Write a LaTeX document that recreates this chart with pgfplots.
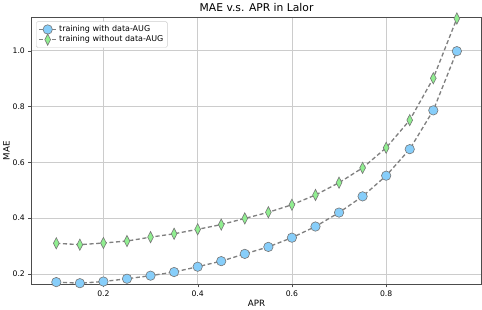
\documentclass[border=0pt]{standalone}
\usepackage{fontspec}
\setmainfont{DejaVu Sans}
\usepackage{pgfplots}
\pgfplotsset{compat=1.18}
\definecolor{circ}{HTML}{87CEFA}
\definecolor{dia}{HTML}{90EE90}
\definecolor{edge}{HTML}{777777}
\definecolor{lin}{HTML}{808080}
\begin{document}
\begin{tikzpicture}
\begin{axis}[
  scale only axis,
  width=440pt, height=261pt,
  xmin=0.0475, xmax=1.0025,
  ymin=0.163, ymax=1.119,
  xtick={0.2,0.4,0.6,0.8},
  ytick={0.2,0.4,0.6,0.8,1.0},
  xticklabel style={/pgf/number format/fixed,/pgf/number format/precision=1,/pgf/number format/fixed zerofill},
  yticklabel style={/pgf/number format/fixed,/pgf/number format/precision=1,/pgf/number format/fixed zerofill},
  /pgf/number format/assume math mode=true,
  tick label style={font=\fontsize{7.5}{9}\selectfont},
  label style={font=\fontsize{8.5}{10}\selectfont},
  xlabel={APR}, ylabel={MAE},
  title={MAE v.s. APR in Lalor},
  title style={font=\fontsize{10.5}{12}\selectfont, yshift=-4pt},
  xlabel style={yshift=4pt},
  ylabel style={yshift=-4pt},
  grid=major,
  grid style={color=black!20, line width=0.6pt},
  axis line style={color=black!70, line width=0.8pt},
  tick align=outside,
  tick pos=left,
  major tick length=3pt,
  tick style={color=black!70},
  legend pos=north west,
  legend style={font=\fontsize{7.8}{9}\selectfont, draw=black!20, rounded corners=1.5pt, row sep=-1.5pt, inner sep=2pt, at={(0.01,0.985)}},
  legend cell align=left,
]
\addplot[lin, dashed, line width=1.3pt, dash pattern=on 4pt off 2.5pt,
  mark=*, mark size=4.6pt, mark options={solid, fill=circ, draw=edge, line width=0.6pt}]
coordinates {
(0.10,0.171)(0.15,0.167)(0.20,0.173)(0.25,0.183)(0.30,0.194)(0.35,0.207)
(0.40,0.226)(0.45,0.246)(0.50,0.272)(0.55,0.297)(0.60,0.330)(0.65,0.370)
(0.70,0.420)(0.75,0.478)(0.80,0.552)(0.85,0.647)(0.90,0.786)(0.95,0.998)};
\addlegendentry{training with data-AUG}
\addplot[lin, dashed, line width=1.3pt, dash pattern=on 4pt off 2.5pt,
  mark=diamond*, mark size=5.5pt, mark options={solid, fill=dia, draw=edge, line width=0.6pt, xscale=0.68}]
coordinates {
(0.10,0.310)(0.15,0.305)(0.20,0.311)(0.25,0.318)(0.30,0.332)(0.35,0.344)
(0.40,0.360)(0.45,0.377)(0.50,0.399)(0.55,0.421)(0.60,0.448)(0.65,0.483)
(0.70,0.527)(0.75,0.580)(0.80,0.652)(0.85,0.751)(0.90,0.901)(0.95,1.115)};
\addlegendentry{training without data-AUG}
\end{axis}
\end{tikzpicture}
\end{document}
